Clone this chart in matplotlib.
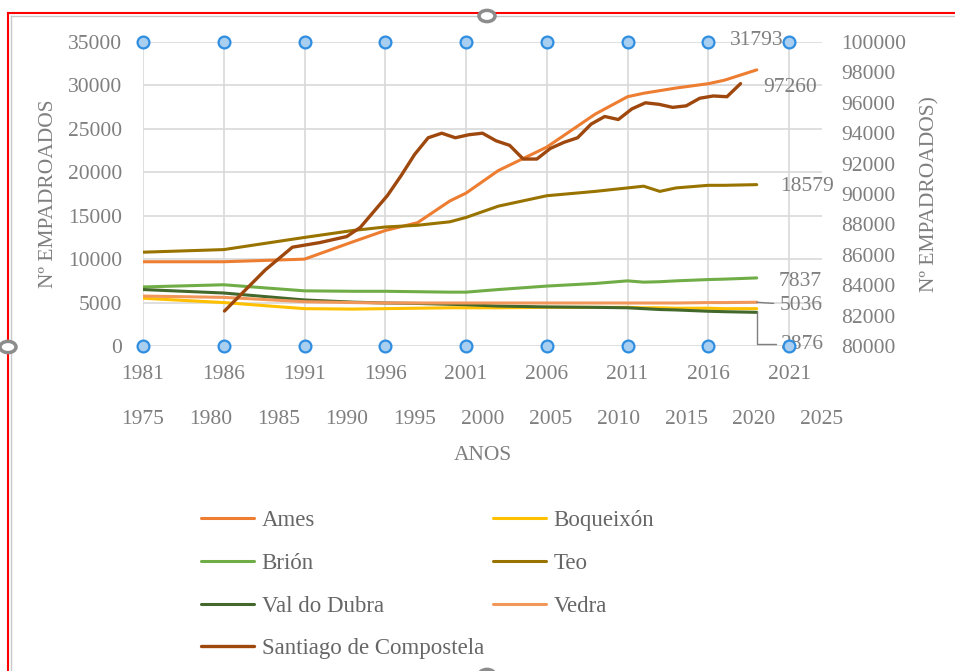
import matplotlib
matplotlib.use("Agg")
import matplotlib.pyplot as plt
from matplotlib.lines import Line2D
from matplotlib.patches import Circle

# -------------------------------
# data
years = [1981, 1986, 1991, 1994, 1996, 1998, 2000, 2001, 2003, 2006,
         2009, 2011, 2012, 2013, 2014, 2016, 2017, 2019]
ames = [9700, 9700, 10000, 12000, 13300, 14200, 16700, 17600, 20200, 22900,
        26700, 28700, 29100, 29400, 29700, 30200, 30600, 31793]
boqueixon = [5500, 5000, 4300, 4250, 4300, 4350, 4400, 4400, 4400, 4450,
             4450, 4450, 4400, 4400, 4350, 4350, 4300, 4300]
brion = [6800, 7050, 6350, 6300, 6300, 6250, 6200, 6200, 6500, 6900,
         7200, 7500, 7350, 7400, 7500, 7650, 7700, 7837]
teo = [10800, 11100, 12500, 13300, 13700, 13900, 14300, 14800, 16100, 17300,
       17800, 18200, 18400, 17800, 18200, 18500, 18500, 18579]
val_do_dubra = [6500, 6100, 5300, 5050, 4950, 4900, 4800, 4750, 4600, 4500,
                4450, 4400, 4300, 4200, 4150, 4000, 3950, 3876]
vedra = [5750, 5600, 5100, 5000, 4950, 4950, 4950, 4950, 4950, 4950,
         4950, 4950, 4950, 4950, 4950, 5000, 5000, 5036]

# Santiago is on the secondary axes (x 1975-2025, y 80000-100000)
sc_years = [1981, 1984, 1986, 1988, 1990, 1991, 1993, 1994, 1995, 1996,
            1997, 1998, 1999, 2000, 2001, 2002, 2003, 2004, 2005, 2006,
            2007, 2008, 2009, 2010, 2011, 2012, 2013, 2014, 2015, 2016,
            2017, 2018, 2019]
santiago = [82300, 85000, 86500, 86800, 87200, 87800, 89900, 91200, 92600, 93700,
            94000, 93700, 93900, 94000, 93500, 93200, 92300, 92300, 93000, 93400,
            93700, 94600, 95100, 94900, 95600, 96000, 95900, 95700, 95800, 96300,
            96450, 96400, 97260]

names = ["Ames", "Boqueixón", "Brión", "Teo", "Val do Dubra", "Vedra",
         "Santiago de Compostela"]
colors = ["#ED7D31", "#FFC000", "#70AD47", "#997300", "#43682B", "#F1975A",
          "#9E480E"]

grey = "#7f7f7f"
plt.rcParams["font.family"] = ["Liberation Serif", "DejaVu Serif"]
fs = 15.5

fig = plt.figure(figsize=(9.55, 6.71), dpi=100)
W, H = 955, 671
pos = [143 / W, 1 - 346 / H, (822 - 143) / W, (346 - 42) / H]

ax = fig.add_axes(pos)
ax2 = fig.add_axes(pos, frameon=False)
ax2.patch.set_alpha(0)

# primary series
prim = [ames, boqueixon, brion, teo, val_do_dubra, vedra]
lines = []
for vals, nm, c in zip(prim, names[:6], colors[:6]):
    ln, = ax.plot(years, vals, color=c, lw=2.2, label=nm, solid_capstyle="round")
    lines.append(ln)

ln, = ax2.plot(sc_years, santiago, color=colors[6], lw=2.4, label=names[6],
               solid_capstyle="round")
lines.append(ln)

# primary axes
ax.set_xlim(1981, 2023.04)
ax.set_ylim(0, 35000)
ax.set_xticks(range(1981, 2022, 5))
ax.set_yticks(range(0, 35001, 5000))
ax.grid(True, color="#d9d9d9", lw=1.2)
ax.set_axisbelow(True)
for s in ax.spines.values():
    s.set_visible(False)
ax.tick_params(length=0, labelsize=fs, labelcolor=grey)
ax.tick_params(axis="y", pad=15)
ax.tick_params(axis="x", pad=14)
ax.set_ylabel("Nº EMPADROADOS", fontsize=fs, color=grey, labelpad=7)
ax.set_xlabel("ANOS", fontsize=fs, color=grey, labelpad=44)

# secondary axes
ax2.set_xlim(1975, 2025)
ax2.set_ylim(80000, 100000)
ax2.set_xticks(range(1975, 2026, 5))
ax2.set_yticks(range(80000, 100001, 2000))
ax2.yaxis.tick_right()
ax2.yaxis.set_label_position("right")
ax2.tick_params(length=0, labelsize=fs, labelcolor=grey)
ax2.tick_params(axis="y", pad=14)
ax2.tick_params(axis="x", pad=46)
ax2.set_ylabel("Nº EMPADROADOS)", fontsize=fs, color=grey, labelpad=10)

# selection handles on the plot area
hx = list(range(1981, 2022, 5))
for yv in (0, 35000):
    ax.plot(hx, [yv] * len(hx), ls="none", marker="o", ms=8.5,
            mfc="#a9cff0", mec="#2f8ee0", mew=1.6, clip_on=False, zorder=10)

# data labels
lab = dict(fontsize=fs, color=grey, textcoords="offset pixels",
           ha="center", va="center")
ax.annotate("31793", (years[-1], ames[-1]), xytext=(0, 29), **lab)
ax2.annotate("97260", (sc_years[-1], santiago[-1]), xytext=(50, -4), **lab)
ax.annotate("18579", (years[-1], teo[-1]), xytext=(50, -2), **lab)
ax.annotate("7837", (years[-1], brion[-1]), xytext=(43, -4), **lab)
ax.annotate("5036", (years[-1], vedra[-1]), xytext=(44, -3),
            arrowprops=dict(arrowstyle="-", color=grey, lw=1, shrinkA=2, shrinkB=0),
            **lab)
ax.annotate("3876", (years[-1], val_do_dubra[-1]), xytext=(46, -32),
            arrowprops=dict(arrowstyle="-", color=grey, lw=1, shrinkA=2, shrinkB=0,
                            connectionstyle="angle,angleA=0,angleB=90,rad=0"),
            **lab)

# legend in two columns
leg_kw = dict(loc="upper left", frameon=False, fontsize=16.5, borderpad=0,
              borderaxespad=0, handlelength=2.3, handletextpad=0.35,
              labelspacing=0.95, labelcolor="#666666")
l1 = [lines[0], lines[2], lines[4], lines[6]]
l2 = [lines[1], lines[3], lines[5]]
fig.legend(l1, [l.get_label() for l in l1],
           bbox_to_anchor=(201 / W, 1 - 510 / H), **leg_kw)
fig.legend(l2, [l.get_label() for l in l2],
           bbox_to_anchor=(493 / W, 1 - 510 / H), **leg_kw)

# chart frame, red selection outline and grey handles
fig.add_artist(Line2D([11 / W, 11 / W], [0, 1 - 16 / H], color="#c8c8c8", lw=1))
fig.add_artist(Line2D([11 / W, 1], [1 - 16 / H, 1 - 16 / H], color="#c8c8c8", lw=1))
fig.add_artist(Line2D([8 / W, 8 / W], [0, 1 - 13 / H], color="red", lw=1.5))
fig.add_artist(Line2D([8 / W, 1], [1 - 13 / H, 1 - 13 / H], color="red", lw=1.5))
for cx, cy in [(487, 16), (8, 347), (487, 675)]:
    fig.add_artist(Circle((cx / W, 1 - cy / H), 8 / W, transform=fig.transFigure,
                          facecolor="white", edgecolor="#8c8c8c", lw=2.5,
                          zorder=20))

fig.savefig("out.png", dpi=100)
